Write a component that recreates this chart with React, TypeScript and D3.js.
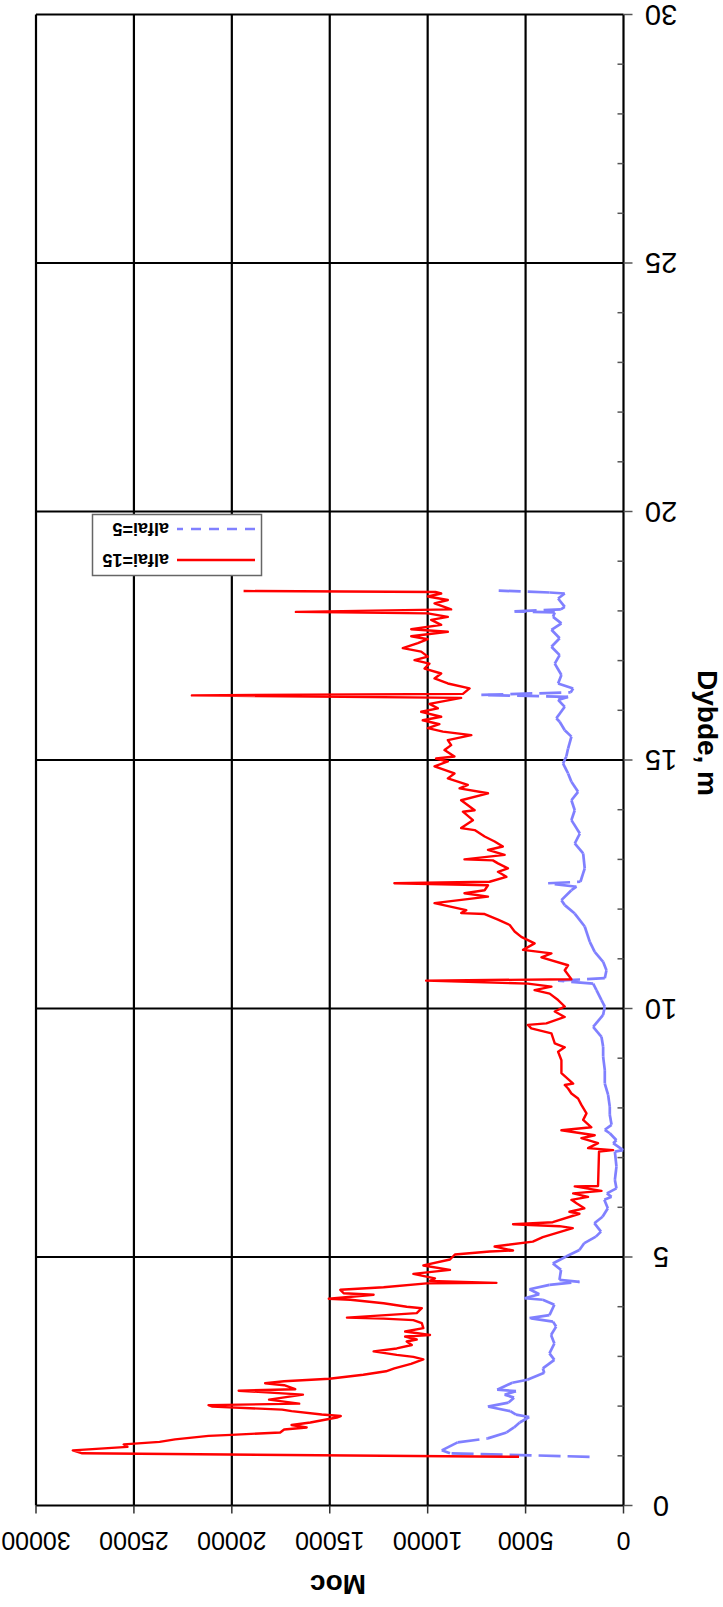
import React from "react";
import * as d3 from "d3";

// Axis ticks
const depthMajorTicks = [0, 5, 10, 15, 20, 25, 30];
const depthMinorTicks = d3.range(0, 31).filter((t) => t % 5 !== 0);
const mocTicks = [0, 5000, 10000, 15000, 20000, 25000, 30000];

// alfai=15 profile: [depth (m), Moc]
const alfai15: [number, number][] = [
  [0.98, 5335], [1.05, 27640], [1.11, 28120], [1.18, 25330], [1.23, 25520],
  [1.28, 23690], [1.33, 22900], [1.4, 21190], [1.42, 20030], [1.47, 17530],
  [1.53, 17330], [1.57, 16180], [1.62, 16950], [1.67, 15990], [1.77, 14640],
  [1.8, 14440], [1.83, 15410], [1.9, 16950], [1.93, 17430], [1.99, 20990],
  [2.02, 21190], [2.05, 16560], [2.13, 18100], [2.23, 16370], [2.31, 19650],
  [2.34, 16760], [2.42, 17330], [2.46, 18300], [2.5, 17330], [2.55, 15020],
  [2.63, 13290], [2.7, 12130], [2.76, 11700], [2.85, 10850], [2.94, 10220],
  [2.99, 10730], [3.03, 11580], [3.1, 12760], [3.16, 11580], [3.23, 10810],
  [3.3, 11070], [3.34, 10560], [3.4, 11150], [3.43, 9880], [3.5, 11150],
  [3.57, 10220], [3.67, 10300], [3.73, 10730], [3.76, 12250], [3.78, 14120],
  [3.87, 10560], [3.97, 10300], [4.0, 11070], [4.07, 12250], [4.14, 13950],
  [4.16, 15050], [4.24, 12760], [4.27, 14290], [4.34, 14460], [4.39, 12250],
  [4.47, 10050], [4.48, 6490], [4.52, 9880], [4.57, 9630], [4.66, 10730],
  [4.74, 8860], [4.83, 10220], [4.95, 8860], [5.05, 8610], [5.11, 6830],
  [5.13, 5640], [5.21, 6580], [5.31, 4630], [5.4, 4120], [5.48, 3440],
  [5.58, 2590], [5.62, 3270], [5.66, 5640], [5.7, 3610], [5.87, 2250],
  [5.91, 2760], [5.98, 2000], [6.08, 2400], [6.15, 2660], [6.21, 1810],
  [6.28, 2570], [6.33, 1125], [6.42, 2490], [6.43, 1300], [7.12, 1250],
  [7.15, 530], [7.19, 1810], [7.29, 1300], [7.39, 2150], [7.45, 1470],
  [7.55, 3170], [7.61, 1640], [7.76, 2060], [7.89, 1890], [8.06, 2150],
  [8.19, 2320], [8.29, 2660], [8.39, 2830], [8.46, 3000], [8.49, 2570],
  [8.7, 3170], [8.96, 3170], [9.13, 3340], [9.22, 3000], [9.3, 3510],
  [9.5, 3680], [9.6, 4710], [9.67, 4880], [9.7, 3940], [9.83, 3000],
  [9.94, 3510], [10.04, 3000], [10.17, 3340], [10.3, 3770], [10.37, 4540],
  [10.44, 3680], [10.5, 4880], [10.56, 10080], [10.59, 2660], [10.77, 3000],
  [10.87, 2830], [11.03, 4190], [11.11, 3680], [11.18, 5130], [11.31, 4540],
  [11.44, 5220], [11.55, 5560], [11.68, 5810], [11.79, 6410], [11.9, 7090],
  [11.92, 8290], [11.98, 8030], [12.12, 9650], [12.25, 6920], [12.32, 8120],
  [12.38, 7090], [12.48, 6920], [12.52, 11700], [12.55, 6840], [12.65, 5980],
  [12.75, 6410], [12.82, 5900], [12.92, 6410], [12.98, 6670], [13.0, 8120],
  [13.09, 6070], [13.19, 6920], [13.26, 6160], [13.36, 6580], [13.46, 7090],
  [13.59, 7600], [13.63, 8290], [13.79, 7690], [13.96, 8200], [13.99, 7600],
  [14.19, 8290], [14.33, 6920], [14.43, 8370], [14.5, 7950], [14.63, 8970],
  [14.73, 8630], [14.87, 9650], [14.97, 8970], [15.03, 9570], [15.07, 8630],
  [15.2, 9140], [15.3, 8800], [15.4, 8970], [15.5, 7770], [15.57, 9220],
  [15.64, 9990], [15.72, 9400], [15.8, 10250], [15.87, 9310], [15.97, 10330],
  [16.04, 9480], [16.13, 9910], [16.25, 8290], [16.3, 22040], [16.33, 8200],
  [16.44, 7860], [16.54, 8970], [16.64, 9650], [16.74, 9310], [16.84, 10160],
  [16.94, 9910], [17.01, 10670], [17.08, 9990], [17.18, 10330], [17.25, 11270],
  [17.35, 10500], [17.43, 9990], [17.49, 10840], [17.58, 8970], [17.63, 10840],
  [17.72, 9310], [17.82, 9820], [17.88, 8970], [17.95, 9990], [17.98, 16730],
  [18.03, 8800], [18.15, 9650], [18.22, 8970], [18.29, 9990], [18.35, 9310],
  [18.38, 9600], [18.4, 19400],
];

// alfai=5 profile: [depth (m), Moc]
const alfai5: [number, number][] = [
  [0.98, 1733], [1.05, 8860], [1.11, 9280], [1.27, 8470], [1.35, 6930],
  [1.47, 5970], [1.57, 5590], [1.67, 5300], [1.78, 4815], [1.83, 5490],
  [1.9, 5780], [1.99, 6930], [2.07, 5870], [2.17, 5590], [2.23, 6070],
  [2.3, 5490], [2.33, 6450], [2.47, 5680], [2.53, 4910], [2.67, 4045],
  [2.76, 4120], [2.93, 3530], [3.06, 3780], [3.26, 3530], [3.43, 3700],
  [3.6, 3440], [3.7, 3600], [3.77, 4800], [3.83, 3780], [4.04, 3530],
  [4.14, 4120], [4.17, 5050], [4.25, 4300], [4.35, 4800], [4.44, 3780],
  [4.5, 2250], [4.54, 3270], [4.74, 3190], [4.87, 3610], [5.01, 2930],
  [5.14, 2250], [5.28, 2000], [5.41, 1410], [5.51, 1150], [5.68, 1490],
  [5.81, 1070], [5.98, 800], [6.15, 980], [6.21, 610], [6.28, 850],
  [6.38, 360], [6.55, 440], [6.82, 360], [7.12, 440], [7.15, 17],
  [7.29, 530], [7.35, 360], [7.49, 700], [7.56, 955], [7.66, 610],
  [7.86, 700], [8.02, 700], [8.26, 785], [8.49, 955], [8.76, 955],
  [9.03, 1040], [9.23, 1040], [9.43, 1125], [9.63, 1550], [9.87, 1040],
  [10.04, 955], [10.17, 1125], [10.37, 1380], [10.5, 1550], [10.56, 3340],
  [10.61, 955], [10.77, 870], [10.94, 1040], [11.14, 1470], [11.34, 1720],
  [11.65, 1980], [11.91, 2490], [12.08, 3000], [12.18, 3170], [12.38, 2660],
  [12.45, 2400], [12.52, 3850], [12.55, 2200], [12.82, 1980], [13.12, 2060],
  [13.32, 2490], [13.52, 2230], [13.79, 2660], [13.99, 2490], [14.19, 2660],
  [14.36, 2320], [14.56, 2660], [14.73, 2830], [14.93, 3090], [15.07, 2920],
  [15.23, 2830], [15.47, 2660], [15.6, 3000], [15.77, 3260], [15.84, 3430],
  [16.07, 3000], [16.21, 3340], [16.27, 2830], [16.31, 7260], [16.36, 2700],
  [16.44, 2570], [16.54, 3340], [16.71, 3170], [16.94, 3510], [17.11, 3260],
  [17.28, 3680], [17.45, 3260], [17.62, 3680], [17.75, 3170], [17.88, 3600],
  [17.97, 3510], [17.99, 5560], [18.03, 3200], [18.08, 3000], [18.25, 3340],
  [18.35, 3000], [18.37, 3770], [18.41, 6500],
];

const seriesNames = ["alfai=15", "alfai=5"];

const W = 723;
const H = 1607;
const font = "'Liberation Sans', Arial, Helvetica, sans-serif";

export default function App() {
  // Depth runs bottom-to-top, Moc runs right-to-left (whole chart turned half a turn)
  const y = d3.scaleLinear().domain([0, 30]).range([1505.5, 14.5]);
  const x = d3.scaleLinear().domain([0, 30000]).range([623.5, 36]);

  const redLine = d3
    .line<[number, number]>()
    .x((d) => x(d[1]))
    .y((d) => y(d[0]))(alfai15) as string;

  const blueSegments = d3.pairs(alfai5);

  const left = x(30000);
  const right = x(0);
  const top = y(30);
  const bottom = y(0);

  return (
    <svg
      width={W}
      height={H}
      viewBox={`0 0 ${W} ${H}`}
      style={{ position: "absolute", left: 0, top: 0, display: "block", background: "#fff" }}
    >
      <rect x={0} y={0} width={W} height={H} fill="#fff" />

      {/* vertical grid (Moc) */}
      {mocTicks.map((t) => (
        <line key={"gx" + t} x1={x(t)} x2={x(t)} y1={top} y2={bottom} stroke="#000" strokeWidth={2.2} />
      ))}
      {/* horizontal grid (depth) */}
      {depthMajorTicks.map((t) => (
        <line key={"gy" + t} x1={left} x2={right} y1={y(t)} y2={y(t)} stroke="#000" strokeWidth={2.2} />
      ))}

      {/* depth axis ticks */}
      {depthMinorTicks.map((t) => (
        <line key={"mt" + t} x1={right - 6} x2={right} y1={y(t)} y2={y(t)} stroke="#555" strokeWidth={1.5} />
      ))}
      {depthMajorTicks.map((t) => (
        <line key={"Mt" + t} x1={right} x2={right + 9} y1={y(t)} y2={y(t)} stroke="#555" strokeWidth={1.5} />
      ))}
      {/* Moc axis ticks */}
      {mocTicks.map((t) => (
        <line key={"xt" + t} x1={x(t)} x2={x(t)} y1={bottom} y2={bottom + 8} stroke="#333" strokeWidth={1.5} />
      ))}

      {/* alfai=5 (dashed, pattern restarts per segment) */}
      {blueSegments.map(([a, b], i) => (
        <line
          key={"b" + i}
          x1={x(a[1])}
          y1={y(a[0])}
          x2={x(b[1])}
          y2={y(b[0])}
          stroke="#8080ff"
          strokeWidth={2.7}
          strokeDasharray="22,7"
          strokeLinecap="butt"
        />
      ))}

      {/* alfai=15 */}
      <path d={redLine} fill="none" stroke="#ff0000" strokeWidth={2.4} strokeLinejoin="round" />

      {/* depth tick labels */}
      {depthMajorTicks.map((t) => (
        <text
          key={"dl" + t}
          x={661}
          y={y(t)}
          transform={`rotate(180, 661, ${y(t)})`}
          textAnchor="middle"
          dominantBaseline="central"
          fontFamily={font}
          fontSize={29}
          fill="#000"
        >
          {t}
        </text>
      ))}

      {/* Moc tick labels */}
      {mocTicks.map((t) => (
        <text
          key={"ml" + t}
          x={x(t)}
          y={1541}
          transform={`rotate(180, ${x(t)}, 1541)`}
          textAnchor="middle"
          dominantBaseline="central"
          fontFamily={font}
          fontSize={25}
          fill="#000"
        >
          {t}
        </text>
      ))}

      {/* axis titles */}
      <text
        x={338}
        y={1584}
        transform="rotate(180, 338, 1584)"
        textAnchor="middle"
        dominantBaseline="central"
        fontFamily={font}
        fontWeight="bold"
        fontSize={28}
      >
        Moc
      </text>
      <text
        x={707}
        y={733}
        transform="rotate(90, 707, 733)"
        textAnchor="middle"
        dominantBaseline="central"
        fontFamily={font}
        fontWeight="bold"
        fontSize={28}
      >
        Dybde, m
      </text>

      {/* legend */}
      <g>
        <rect x={92.5} y={514.5} width={169} height={61} fill="#fff" stroke="#666" strokeWidth={1.5} />
        <line x1={255} x2={177} y1={560} y2={560} stroke="#ff0000" strokeWidth={2.4} />
        <text
          x={169}
          y={560}
          transform="rotate(180, 169, 560)"
          textAnchor="start"
          dominantBaseline="central"
          fontFamily={font}
          fontWeight="bold"
          fontSize={18}
        >
          {seriesNames[0]}
        </text>
        <line x1={255} x2={177} y1={529} y2={529} stroke="#8080ff" strokeWidth={2.7} strokeDasharray="10,8" />
        <text
          x={169}
          y={529}
          transform="rotate(180, 169, 529)"
          textAnchor="start"
          dominantBaseline="central"
          fontFamily={font}
          fontWeight="bold"
          fontSize={18}
        >
          {seriesNames[1]}
        </text>
      </g>
    </svg>
  );
}
